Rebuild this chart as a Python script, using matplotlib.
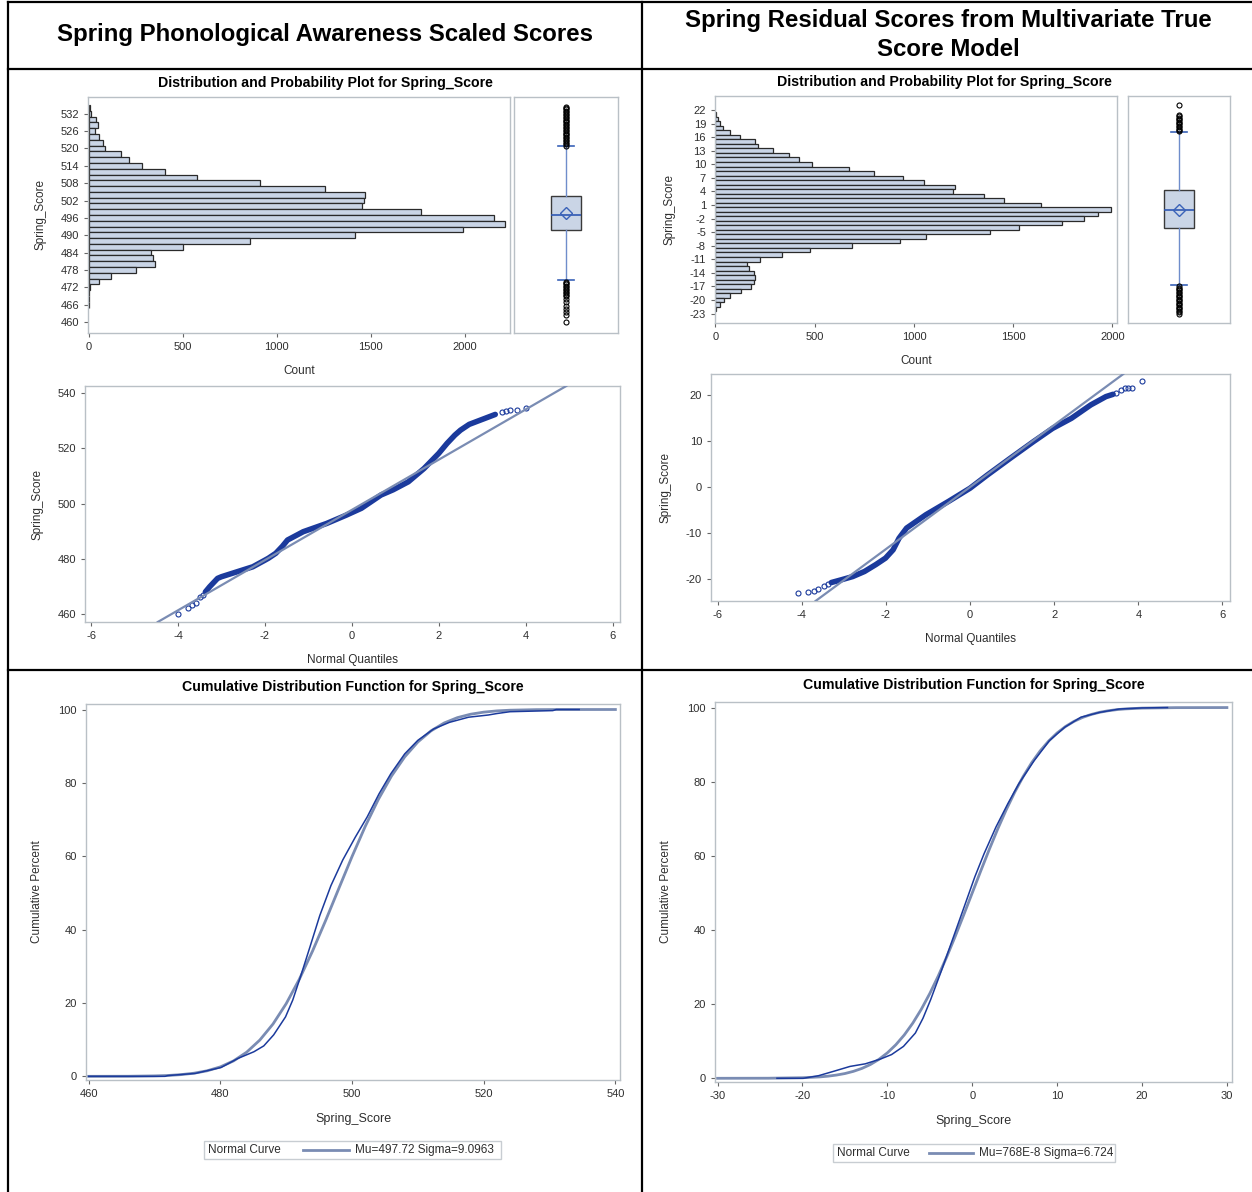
import matplotlib
matplotlib.use("Agg")
import matplotlib.pyplot as plt
from matplotlib.lines import Line2D
from matplotlib.patches import Rectangle

# ---- histogram counts (horizontal bars) ----
L_bins = [534, 532, 530, 528, 526, 524, 522, 520, 518, 516, 514, 512, 510, 508, 506, 504, 502,
          500, 498, 496, 494, 492, 490, 488, 486, 484, 482, 480, 478, 476, 474, 472, 470, 468, 466]
L_counts = [6, 12, 41, 49, 35, 55, 76, 86, 173, 214, 284, 408, 578, 908, 1255, 1469, 1465,
            1455, 1767, 2153, 2216, 1990, 1416, 859, 502, 329, 343, 353, 251, 120, 55, 6, 3, 3, 3]
L_yticks = [460, 466, 472, 478, 484, 490, 496, 502, 508, 514, 520, 526, 532]

R_bins = [21, 20, 19, 18, 17, 16, 15, 14, 13, 12, 11, 10, 9, 8, 7, 6, 5, 4, 3, 2, 1, 0,
          -1, -2, -3, -4, -5, -6, -7, -8, -9, -10, -11, -12, -13, -14, -15, -16, -17, -18, -19, -20, -21, -22]
R_counts = [3, 15, 25, 40, 75, 125, 200, 215, 290, 370, 420, 485, 675, 800, 945, 1050, 1205, 1195,
            1355, 1455, 1640, 1995, 1925, 1855, 1745, 1530, 1385, 1060, 930, 690, 475, 335, 225, 160,
            170, 195, 197, 195, 180, 130, 72, 45, 22, 5]
R_yticks = [22, 19, 16, 13, 10, 7, 4, 1, -2, -5, -8, -11, -14, -17, -20, -23]

# ---- box plot summaries ----
L_box = dict(whislo=474.5, q1=491.7, med=497.0, mean=497.7, q3=503.6, whishi=520.7)
L_out = [521.0, 521.5, 522.0, 522.5, 523.0, 523.5, 524.0, 524.5, 525.0, 525.5, 526.0, 526.5, 527.0,
         527.5, 528.0, 528.5, 529.0, 529.5, 530.0, 530.5, 531.0, 531.5, 532.0, 532.5, 533.0, 533.5,
         534.0, 534.5, 474.0, 473.5, 473.0, 472.5, 472.0, 471.5, 471.0, 470.5, 470.0, 469.5, 469.0,
         468.0, 466.8, 465.6, 464.5, 463.5, 462.3, 460.0]
R_box = dict(whislo=-16.8, q1=-4.0, med=-0.2, mean=0.0, q3=4.3, whishi=17.1)
R_out = [17.3, 17.6, 17.9, 18.2, 18.5, 18.8, 19.1, 19.4, 19.7, 20.0, 20.3, 20.6, 20.9, 23.0,
         -17.0, -17.3, -17.6, -17.9, -18.2, -18.5, -18.8, -19.1, -19.4, -19.7, -20.0, -20.3,
         -20.6, -20.9, -21.2, -21.5, -21.8, -22.1, -22.4, -22.7, -23.0]

# ---- normal fit parameters ----
L_mu, L_sigma = 497.72, 9.0963
R_mu, R_sigma = 768e-8, 6.724

# ---- QQ plot (band of points + tail circles) ----
L_qq_x = [-3.37, -3.27, -3.09, -3.0, -2.64, -2.28, -2.0, -1.92, -1.75, -1.6, -1.48, -1.3, -1.12,
          -0.58, -0.13, 0.22, 0.67, 0.95, 1.30, 1.66, 2.0, 2.19, 2.37, 2.5, 2.7, 3.0, 3.3]
L_qq_y = [468.0, 469.9, 472.9, 473.5, 475.3, 477.1, 479.5, 480.2, 482.0, 484.5, 486.8, 488.3, 489.8,
          492.8, 495.8, 498.3, 503.1, 505.0, 507.9, 512.7, 518.2, 521.8, 524.8, 526.6, 528.7, 530.5, 532.3]
L_tail_x = [-4.01, -3.78, -3.68, -3.58, -3.5, -3.43, 3.45, 3.55, 3.65, 3.8, 4.0]
L_tail_y = [460.0, 462.3, 463.2, 464.0, 466.0, 467.0, 533.3, 533.5, 534.0, 534.0, 534.5]

R_qq_x = [-3.3, -3.06, -2.79, -2.51, -2.24, -2.01, -1.83, -1.69, -1.51, -1.05, -0.51, 0.0, 0.41,
          0.95, 1.50, 1.96, 2.41, 2.87, 3.23, 3.4]
R_qq_y = [-20.7, -20.1, -19.4, -18.3, -16.8, -15.4, -13.6, -11.1, -8.9, -6.0, -3.1, -0.25, 2.6,
          6.2, 9.8, 12.7, 14.9, 17.8, 19.6, 20.1]
R_tail_x = [-4.08, -3.86, -3.72, -3.61, -3.47, -3.38, 3.46, 3.6, 3.69, 3.75, 3.85, 4.08]
R_tail_y = [-23.0, -22.8, -22.5, -22.2, -21.5, -21.0, 20.3, 21.0, 21.4, 21.4, 21.4, 23.0]

# ---- CDFs ----
L_emp_x = [460, 471.6, 472, 476.2, 480.1, 482.7, 485.1, 486.6, 488.1, 489.9, 491.0, 492.2, 493.6,
           495.1, 496.8, 498.6, 500.5, 502.3, 504.1, 505.9, 508.0, 510.0, 512.4, 514.8, 517.7,
           520.7, 522.0, 524.0, 530.5, 531.0, 534.5]
L_emp_y = [0, 0, 0.2, 0.8, 2.4, 4.9, 6.7, 8.3, 11.3, 16.2, 20.8, 27.3, 35.2, 43.8, 52.0, 59.0, 65.2,
           70.7, 77.0, 82.5, 87.9, 91.6, 94.7, 96.5, 97.9, 98.5, 98.9, 99.4, 99.7, 100, 100]
L_norm_x = [460, 466, 470, 472, 474, 476, 478, 480, 482, 484, 486, 488, 490, 492, 494, 496, 498,
            500, 502, 504, 506, 508, 510, 512, 514, 516, 518, 520, 522, 524, 528, 532, 540]
L_norm_y = [0.0, 0.02, 0.12, 0.23, 0.46, 0.85, 1.51, 2.57, 4.20, 6.58, 9.89, 14.26, 19.80, 26.47,
            34.13, 42.50, 51.23, 59.90, 68.10, 75.50, 81.87, 87.08, 91.15, 94.18, 96.33, 97.78,
            98.71, 99.28, 99.62, 99.81, 99.96, 99.99, 100.0]

R_emp_x = [-23, -19.9, -18.1, -16.3, -14.4, -12.6, -10.8, -9.5, -8.1, -6.7, -5.8, -4.9, -3.6, -2.2,
           -0.8, 0.3, 1.4, 2.8, 4.2, 5.5, 7.3, 9.1, 10.9, 12.8, 15.0, 17.3, 20.0, 23.0]
R_emp_y = [0, 0, 0.7, 1.9, 3.2, 3.9, 5.2, 6.4, 8.6, 12.2, 16.2, 21.2, 29.2, 38.2, 47.2, 54.3, 60.6,
           67.8, 74.1, 79.5, 85.7, 91.1, 94.7, 97.4, 98.7, 99.6, 99.9, 100]
R_norm_x = [-30, -24, -20, -18, -17, -16, -15, -14, -13, -12, -11, -10, -9, -8, -7, -6, -5, -4, -3,
            -2, -1, 0, 1, 2, 3, 4, 5, 6, 7, 8, 9, 10, 11, 12, 13, 14, 15, 16, 17, 18, 20, 24, 30]
R_norm_y = [0.0, 0.02, 0.15, 0.37, 0.57, 0.87, 1.28, 1.87, 2.66, 3.71, 5.09, 6.85, 9.04, 11.70,
            14.89, 18.61, 22.86, 27.60, 32.77, 38.31, 44.09, 50.0, 55.91, 61.69, 67.23, 72.40,
            77.14, 81.39, 85.11, 88.30, 90.96, 93.15, 94.91, 96.29, 97.34, 98.13, 98.72, 99.13,
            99.43, 99.63, 99.85, 99.98, 100.0]

BAR = "#CAD5E6"
EDGE = "#2A2A2A"
FRAME = "#B9C0C6"
DARK = "#1B3A9C"
LIGHT = "#7A8CB3"
TXT = "#2E2E2E"

plt.rcParams["font.family"] = ["Liberation Sans", "DejaVu Sans"]
plt.rcParams["axes.unicode_minus"] = False

W, H = 1252, 1192
fig = plt.figure(figsize=(W / 100, H / 100), dpi=100)
fig.patch.set_facecolor("white")


def box(x0, y0, x1, y1):
    # pixel box (top-left origin) -> figure rect
    return [x0 / W, 1 - y1 / H, (x1 - x0) / W, (y1 - y0) / H]


def style(ax):
    for s in ax.spines.values():
        s.set_color(FRAME)
        s.set_linewidth(1)
    ax.tick_params(colors="#666666", labelcolor=TXT, labelsize=8, length=3, width=0.8)


def hist_panel(ax, bins, counts, width, yticks, ylim, xlim):
    style(ax)
    ax.barh(bins, counts, height=width, color=BAR, edgecolor=EDGE, linewidth=0.9)
    ax.set_ylim(*ylim)
    ax.set_xlim(*xlim)
    ax.set_yticks(yticks)
    ax.set_xticks([0, 500, 1000, 1500, 2000])
    ax.set_xlabel("Count", fontsize=8.5, color=TXT, labelpad=9)
    ax.set_ylabel("Spring_Score", fontsize=8.5, color=TXT, labelpad=10)


def box_panel(ax, st, out, ylim):
    style(ax)
    stats = dict(st)
    stats["fliers"] = out
    ax.bxp([stats], positions=[0], widths=0.58, showmeans=True, patch_artist=True,
           capwidths=0.32,
           boxprops=dict(facecolor=BAR, edgecolor="#3A3A3A", linewidth=1),
           whiskerprops=dict(color="#6F8DCB", linewidth=1),
           capprops=dict(color="#3A62B8", linewidth=1.2),
           medianprops=dict(color="#2F58B3", linewidth=1.2),
           meanprops=dict(marker="D", markerfacecolor="none", markeredgecolor="#3A62B8",
                          markersize=6.5, markeredgewidth=1),
           flierprops=dict(marker="o", markerfacecolor="none", markeredgecolor="black",
                           markersize=3.6, markeredgewidth=0.8))
    ax.set_xlim(-1, 1)
    ax.set_ylim(*ylim)
    ax.set_xticks([])
    ax.set_yticks([])


def qq_panel(ax, qx, qy, tx, ty, mu, sigma, xlim, ylim, yticks):
    style(ax)
    ax.plot(qx, qy, color=DARK, linewidth=4.0, solid_capstyle="round", zorder=2)
    ax.plot(tx, ty, "o", markerfacecolor="none", markeredgecolor=DARK, markersize=3.6,
            markeredgewidth=0.8, zorder=2)
    ax.axline((0, mu), slope=sigma, color=LIGHT, linewidth=1.6, zorder=3)
    ax.set_xlim(*xlim)
    ax.set_ylim(*ylim)
    ax.set_xticks([-6, -4, -2, 0, 2, 4, 6])
    ax.set_yticks(yticks)
    ax.set_xlabel("Normal Quantiles", fontsize=8.5, color=TXT, labelpad=9)
    ax.set_ylabel("Spring_Score", fontsize=8.5, color=TXT, labelpad=10)


def cdf_panel(ax, ex, ey, nx, ny, xlim, xticks):
    style(ax)
    ax.plot(nx, ny, color=LIGHT, linewidth=2.0, zorder=2)
    ax.plot(ex, ey, color=DARK, linewidth=1.1, zorder=3)
    ax.set_xlim(*xlim)
    ax.set_ylim(-1.0, 101.5)
    ax.set_xticks(xticks)
    ax.set_yticks([0, 20, 40, 60, 80, 100])
    ax.set_xlabel("Spring_Score", fontsize=9, color=TXT, labelpad=10)
    ax.set_ylabel("Cumulative Percent", fontsize=8.5, color=TXT, labelpad=11)


# left column
ax = fig.add_axes(box(88, 97, 510, 333))
hist_panel(ax, L_bins, L_counts, 2, L_yticks, (456.2, 537.8), (-4, 2240))
ax = fig.add_axes(box(514, 97, 618, 333))
box_panel(ax, L_box, L_out, (456.2, 537.8))
ax = fig.add_axes(box(85, 386, 620, 622))
qq_panel(ax, L_qq_x, L_qq_y, L_tail_x, L_tail_y, L_mu, L_sigma, (-6.14, 6.17), (457.1, 542.6),
         [460, 480, 500, 520, 540])
ax = fig.add_axes(box(86, 704, 620, 1080))
cdf_panel(ax, L_emp_x, L_emp_y, L_norm_x, L_norm_y, (459.6, 540.7), [460, 480, 500, 520, 540])

# right column
ax = fig.add_axes(box(715, 96, 1117, 323))
hist_panel(ax, R_bins, R_counts, 1, R_yticks, (-25.1, 25.1), (-2, 2023))
ax = fig.add_axes(box(1128, 96, 1230, 323))
box_panel(ax, R_box, R_out, (-25.1, 25.1))
ax = fig.add_axes(box(711, 374, 1230, 601))
qq_panel(ax, R_qq_x, R_qq_y, R_tail_x, R_tail_y, R_mu, R_sigma, (-6.16, 6.18), (-24.7, 24.5),
         [-20, -10, 0, 10, 20])
ax = fig.add_axes(box(715, 702, 1232, 1082))
cdf_panel(ax, R_emp_x, R_emp_y, R_norm_x, R_norm_y, (-30.3, 30.6), [-30, -20, -10, 0, 10, 20, 30])

# titles
fig.text(325 / W, 1 - 34 / H, "Spring Phonological Awareness Scaled Scores", ha="center",
         va="center", fontsize=17.3, fontweight="bold", color="black")
fig.text(948 / W, 1 - 35 / H, "Spring Residual Scores from Multivariate True\nScore Model",
         ha="center", va="center", fontsize=17.3, fontweight="bold", color="black", linespacing=1.3)
for cx, cy in [(325, 83), (944, 82)]:
    fig.text(cx / W, 1 - cy / H, "Distribution and Probability Plot for Spring_Score", ha="center",
             va="center", fontsize=10.2, fontweight="bold", color="black")
for cx, cy in [(353, 687), (974, 685)]:
    fig.text(cx / W, 1 - cy / H, "Cumulative Distribution Function for Spring_Score", ha="center",
             va="center", fontsize=10.2, fontweight="bold", color="black")

# legends below the CDF panels
for (x0, y0, x1, y1, lx0, lx1, label) in [
        (204, 1141, 501, 1159, 303, 349, "Mu=497.72 Sigma=9.0963"),
        (833, 1144, 1115, 1162, 929, 973, "Mu=768E-8 Sigma=6.724")]:
    fig.add_artist(Rectangle((x0 / W, 1 - y1 / H), (x1 - x0) / W, (y1 - y0) / H,
                             transform=fig.transFigure, facecolor="white", edgecolor="#C8CDD2",
                             linewidth=1))
    ym = 1 - (y0 + y1) / 2 / H
    fig.text((x0 + 4) / W, ym, "Normal Curve", ha="left", va="center", fontsize=8.5, color=TXT)
    fig.add_artist(Line2D([lx0 / W, lx1 / W], [ym, ym], transform=fig.transFigure, color=LIGHT,
                          linewidth=2))
    fig.text((lx1 + 6) / W, ym, label, ha="left", va="center", fontsize=8.5, color=TXT)

# table grid
for (xa, ya, xb, yb) in [(8, 2, 1252, 2), (8, 69, 1252, 69), (8, 670, 1252, 670),
                         (8, 2, 8, 1192), (642, 2, 642, 1192)]:
    fig.add_artist(Line2D([xa / W, xb / W], [1 - ya / H, 1 - yb / H], transform=fig.transFigure,
                          color="black", linewidth=1.6))

fig.savefig("out.png", dpi=100)
